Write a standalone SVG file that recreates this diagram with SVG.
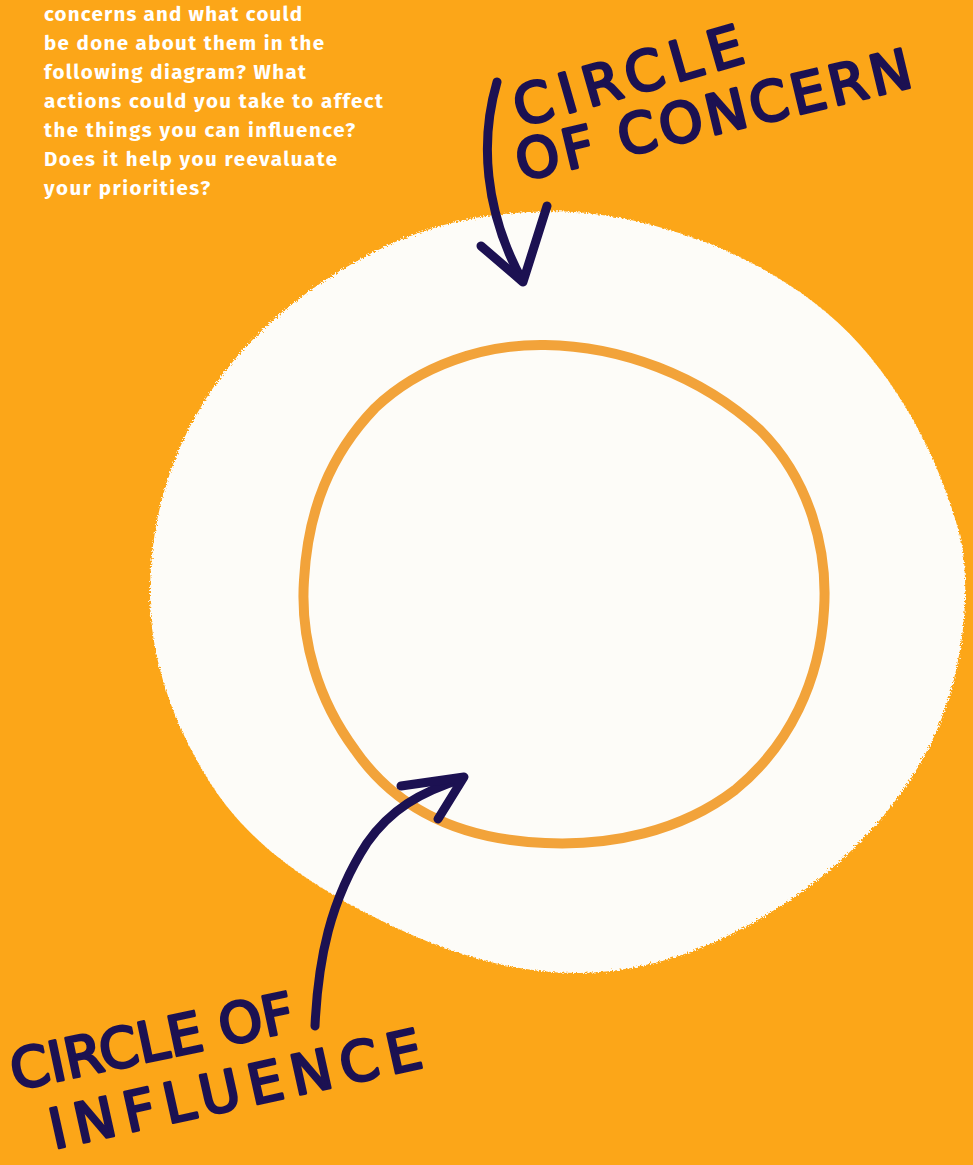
<svg xmlns="http://www.w3.org/2000/svg" width="973" height="1165" viewBox="0 0 973 1165">
<style>
.intro{font-family:"Fira Sans","Noto Sans","Open Sans",sans-serif;font-weight:700;font-size:20.5px;fill:#FFFFFF}
.hand{font-family:"DejaVu Sans","Liberation Sans",sans-serif;font-size:55px;fill:#1C1152;stroke:#1C1152;stroke-width:3;stroke-linejoin:round}
.arrow{fill:none;stroke:#1C1152;stroke-width:9;stroke-linecap:round;stroke-linejoin:round}
</style>
<defs>
<filter id="rough" x="-5%" y="-5%" width="110%" height="110%">
<feTurbulence type="fractalNoise" baseFrequency="0.6" numOctaves="2" seed="3" result="n"/>
<feDisplacementMap in="SourceGraphic" in2="n" scale="5"/>
</filter>
</defs>
<rect width="973" height="1165" fill="#FCA618"/>
<g id="intro-text" class="intro">
<text x="44" y="21" textLength="258" lengthAdjust="spacing">concerns and what could</text>
<text x="44" y="50" textLength="280" lengthAdjust="spacing">be done about them in the</text>
<text x="44" y="79" textLength="262" lengthAdjust="spacing">following diagram? What</text>
<text x="44" y="108" textLength="339" lengthAdjust="spacing">actions could you take to affect</text>
<text x="44" y="137" textLength="311" lengthAdjust="spacing">the things you can influence?</text>
<text x="44" y="166" textLength="293" lengthAdjust="spacing">Does it help you reevaluate</text>
<text x="44" y="195" textLength="166" lengthAdjust="spacing">your priorities?</text>
</g>
<g id="circle-of-concern">
<path filter="url(#rough)" fill="#FDFCF8" d="M530,212 C580,208 640,218 700,240 C760,262 820,300 860,345 C905,395 945,470 962,545 C972,610 958,690 930,745 C900,805 850,860 790,900 C730,940 660,972 580,973 C510,974 440,950 380,920 C320,890 255,850 215,790 C175,730 150,660 150,595 C150,520 170,450 215,385 C260,320 330,270 400,240 C445,222 485,214 530,212 Z"/>
</g>
<g id="circle-of-influence">
<path fill="none" stroke="#F2A33A" stroke-width="10" d="M545,345 C620,346 700,375 760,430 C810,480 828,550 824,610 C820,680 790,745 735,790 C680,832 610,846 545,843 C470,840 400,815 355,750 C318,700 300,640 304,580 C308,510 330,455 375,408 C420,365 485,344 545,345 Z"/>
</g>
<g id="label-concern">
<text class="hand" transform="translate(520,127) rotate(-16)" textLength="236" lengthAdjust="spacing">CIRCLE</text>
<text class="hand" transform="translate(521,181) rotate(-13.5)" textLength="405" lengthAdjust="spacing">OF CONCERN</text>
</g>
<g id="label-influence">
<text class="hand" transform="translate(15,1090) rotate(-12)" textLength="288" lengthAdjust="spacing">CIRCLE OF</text>
<text class="hand" transform="translate(54,1149) rotate(-12.5)" textLength="380" lengthAdjust="spacing">INFLUENCE</text>
</g>
<g id="connectors">
<path class="arrow" d="M497,82 C480,140 484,210 522,280"/>
<path class="arrow" d="M481,246 L523,282 L547,206"/>
<path class="arrow" d="M315,1026 C318,960 330,900 367,843 C390,810 420,792 462,779"/>
<path class="arrow" d="M401,786 L464,777 L438,819"/>
</g>
</svg>
